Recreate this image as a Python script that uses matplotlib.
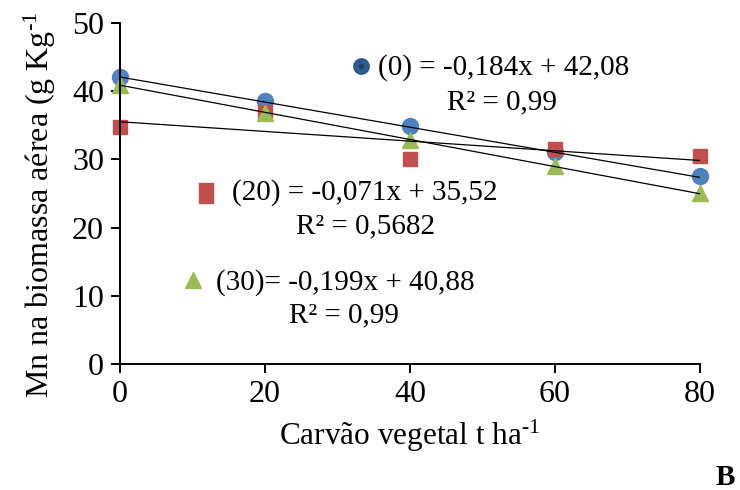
import numpy as np
import matplotlib
matplotlib.use("Agg")
import matplotlib.pyplot as plt

plt.rcParams['font.family'] = ['Liberation Serif', 'DejaVu Serif']
plt.rcParams['mathtext.fontset'] = 'custom'
plt.rcParams['mathtext.rm'] = 'Liberation Serif'
plt.rcParams['mathtext.it'] = 'Liberation Serif:italic'

doses = [0, 20, 40, 60, 80]
s0 = [42.1, 38.5, 34.9, 31.1, 27.5]
s20 = [34.7, 37.0, 30.0, 31.5, 30.5]
s30 = [40.9, 36.8, 32.8, 29.0, 25.0]
slopes = [-0.184, -0.071, -0.199]
intercepts = [42.08, 35.52, 40.88]
eq_labels = ["(0) = -0,184x + 42,08", "(20) = -0,071x + 35,52", "(30)= -0,199x + 40,88"]
r2_labels = ["R² = 0,99", "R² = 0,5682", "R² = 0,99"]
xticks = [0, 20, 40, 60, 80]
yticks = [0, 10, 20, 30, 40, 50]

blue, red, green = '#4F81BD', '#C0504D', '#9BBB59'

fig = plt.figure(figsize=(7.4, 4.9), dpi=100)
ax = fig.add_axes([120/740, 1-364/490, 580/740, 341/490])

xs = np.array(doses, dtype=float)
for m, b in zip(slopes, intercepts):
    ax.plot(xs, m*xs + b, color='black', lw=0.9, zorder=3)

ax.plot(doses, s0, 'o', color=blue, ms=11.5, mec=blue, zorder=2, clip_on=False)
ax.plot(doses, s20, 's', color=red, ms=10.5, mec=red, zorder=2, clip_on=False)
ax.plot(doses, s30, '^', color=green, ms=11.5, mec=green, zorder=2, clip_on=False)

# annotation markers
ax.plot([33.2], [43.7], 'o', color='#2F5C8F', mec='#2A5283', ms=11, zorder=4)
ax.plot([33.2], [43.7], 'o', color='#1F3F66', ms=3, zorder=5)
rect = [(-0.7, -1), (0.7, -1), (0.7, 1), (-0.7, 1), (-0.7, -1)]
ax.plot([11.9], [25.1], marker=rect, color=red, ms=14, ls='none', zorder=4)
ax.plot([10.1], [12.3], '^', color=green, ms=12, zorder=4)

fs_ann = 21
ax.text(35.6, 43.4, eq_labels[0], fontsize=fs_ann, ha='left', va='center')
ax.text(52.7, 38.4, r2_labels[0], fontsize=fs_ann, ha='center', va='center')
ax.text(15.4, 25.1, eq_labels[1], fontsize=fs_ann, ha='left', va='center')
ax.text(33.8, 20.2, r2_labels[1], fontsize=fs_ann, ha='center', va='center')
ax.text(13.2, 12.0, eq_labels[2], fontsize=fs_ann, ha='left', va='center')
ax.text(30.9, 7.2, r2_labels[2], fontsize=fs_ann, ha='center', va='center')

ax.set_xlim(0, 80)
ax.set_ylim(0, 50)
ax.set_xticks(xticks)
ax.set_yticks(yticks)
ax.tick_params(axis='both', direction='out', length=6.5, width=1.4, labelsize=23, pad=5)
for side in ['top', 'right']:
    ax.spines[side].set_visible(False)
for side in ['left', 'bottom']:
    ax.spines[side].set_linewidth(1.4)

ax.set_xlabel(r"Carvão vegetal t ha$^{\text{-1}}$", fontsize=22.5, labelpad=6)
fig.text(40/740, 1-398/490, r"Mn na biomassa aérea (g Kg$^{\text{-1}}$", rotation=90,
         fontsize=23, ha='center', va='bottom')
fig.text(725/740, 1-477/490, "B", fontsize=21, fontweight='bold', ha='center', va='center')

fig.savefig("out.png", dpi=100)
